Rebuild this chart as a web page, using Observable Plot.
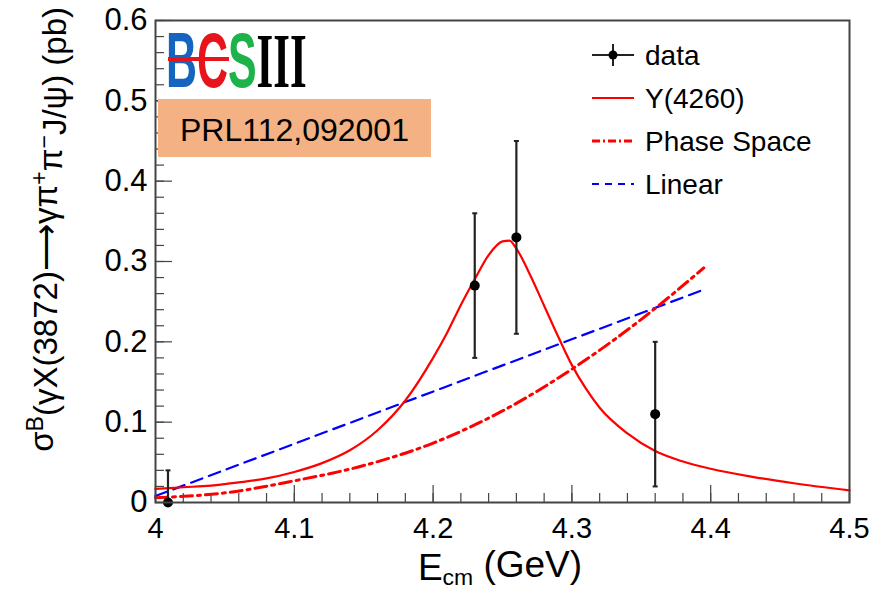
<!DOCTYPE html>
<html><head><meta charset="utf-8">
<script src="https://cdn.jsdelivr.net/npm/d3@7"></script>
<script src="https://cdn.jsdelivr.net/npm/@observablehq/plot@0.6"></script>
<style>
html,body{margin:0;padding:0;background:#fff;}
#chart{width:877px;height:592px;}
</style></head><body><div id="chart"></div>
<script>
// Measured Born cross sections sigma(e+e- -> gamma X(3872) -> gamma pi+ pi- J/psi)
const energy = [4.009, 4.23, 4.26, 4.36];
const xsec = [0.0, 0.27, 0.33, 0.11];
const xsecErr = [0.04, 0.09, 0.12, 0.09];

// Y(4260) resonance fit
const y4260E = [4.00, 4.02, 4.04, 4.06, 4.08, 4.10, 4.12, 4.14, 4.16, 4.18, 4.20, 4.21, 4.22, 4.23, 4.24, 4.25, 4.255, 4.26, 4.27, 4.28, 4.29, 4.30, 4.31, 4.32, 4.34, 4.36, 4.38, 4.40, 4.43, 4.46, 4.50];
const y4260S = [0.017, 0.019, 0.021, 0.025, 0.030, 0.038, 0.049, 0.065, 0.090, 0.127, 0.180, 0.211, 0.246, 0.278, 0.308, 0.325, 0.326, 0.316, 0.283, 0.245, 0.207, 0.171, 0.142, 0.118, 0.086, 0.064, 0.051, 0.042, 0.032, 0.024, 0.015];

// Phase space fit
const phspE = [4.00, 4.05, 4.10, 4.15, 4.20, 4.25, 4.30, 4.35, 4.395];
const phspS = [0.006, 0.012, 0.027, 0.046, 0.074, 0.114, 0.166, 0.228, 0.292];

// Linear fit
const linearE = [4.0, 4.395];
const linearS = [0.008, 0.265];

// Axis ticks
const xTicks = [4, 4.1, 4.2, 4.3, 4.4, 4.5];
const yTicks = [0, 0.1, 0.2, 0.3, 0.4, 0.5, 0.6];
const xTickLabels = ["4", "4.1", "4.2", "4.3", "4.4", "4.5"];
const yTickLabels = ["0", "0.1", "0.2", "0.3", "0.4", "0.5", "0.6"];
const xMinor = d3.range(4, 4.5001, 0.02);
const yMinor = d3.range(0, 0.6001, 0.02);

const zip = (xs, ys) => xs.map((x, i) => ({e: x, s: ys[i]}));
const points = energy.map((e, i) => ({e, s: xsec[i], lo: Math.max(0, xsec[i] - xsecErr[i]), hi: xsec[i] + xsecErr[i]}));

const W = 877, H = 592;
const mL = 155, mR = 28, mT = 20, mB = 90;
const frameW = W - mL - mR, frameH = H - mT - mB;
const font = "'Liberation Sans', Arial, Helvetica, sans-serif";
const dashDot = "12,5,3,5";
const dashed = "12,7";

// Short horizontal bar used as error-bar cap
const cap = {draw(ctx, size) { const r = Math.sqrt(size / Math.PI); ctx.moveTo(-r, 0); ctx.lineTo(r, 0); }};

const chart = Plot.plot({
  width: W, height: H,
  marginLeft: mL, marginRight: mR, marginTop: mT, marginBottom: mB,
  x: {domain: [4, 4.5], axis: null},
  y: {domain: [0, 0.6], axis: null},
  style: {fontFamily: font, background: "#fff", color: "#000"},
  marks: [
    Plot.tickX(xMinor, {x: d => d, insetTop: frameH - 9, stroke: "#444", strokeWidth: 1.2}),
    Plot.tickX(xTicks, {x: d => d, insetTop: frameH - 17, stroke: "#444", strokeWidth: 1.2}),
    Plot.tickY(yMinor, {y: d => d, insetRight: frameW - 9, stroke: "#444", strokeWidth: 1.2}),
    Plot.tickY(yTicks, {y: d => d, insetRight: frameW - 17, stroke: "#444", strokeWidth: 1.2}),
    Plot.line(zip(linearE, linearS), {x: "e", y: "s", stroke: "#0000ff", strokeWidth: 2.2, strokeDasharray: dashed}),
    Plot.line(zip(phspE, phspS), {x: "e", y: "s", stroke: "#ff0000", strokeWidth: 3, strokeDasharray: dashDot, curve: "monotone-x"}),
    Plot.line(zip(y4260E, y4260S), {x: "e", y: "s", stroke: "#ff0000", strokeWidth: 2.2, curve: "monotone-x"}),
    Plot.ruleX(points, {x: "e", y1: "lo", y2: "hi", stroke: "#222", strokeWidth: 2.2}),
    Plot.dot(points, {x: "e", y: "hi", symbol: cap, r: 2.5, stroke: "#222", strokeWidth: 2}),
    Plot.dot(points, {x: "e", y: "lo", symbol: cap, r: 2.5, stroke: "#222", strokeWidth: 2}),
    Plot.dot(points, {x: "e", y: "s", r: 5, fill: "#000"}),
    Plot.frame({stroke: "#444", strokeWidth: 2}),
    Plot.text(xTicks, {x: d => d, text: (d, i) => xTickLabels[i], frameAnchor: "bottom", dy: 26, lineAnchor: "middle", fontSize: 29, fill: "#000"}),
    Plot.text(yTicks, {y: d => d, text: (d, i) => yTickLabels[i], frameAnchor: "left", dx: -8, textAnchor: "end", lineAnchor: "middle", fontSize: 31, fill: "#000"})
  ]
});
document.getElementById("chart").appendChild(chart);

const svg = d3.select(chart);

// Y axis title
const yt = svg.append("text")
  .attr("transform", "translate(53,7) rotate(-90)")
  .attr("text-anchor", "end")
  .style("font-family", font).style("font-size", "33px").attr("fill", "#000");
yt.append("tspan").text("σ");
yt.append("tspan").attr("dy", "-0.45em").style("font-size", "70%").text("B");
yt.append("tspan").attr("dy", "0.45em").text("(γX(3872)⟶γπ");
yt.append("tspan").attr("dy", "-0.45em").style("font-size", "70%").text("+");
yt.append("tspan").attr("dy", "0.45em").text("π");
yt.append("tspan").attr("dy", "-0.45em").style("font-size", "70%").text("−");
yt.append("tspan").attr("dy", "0.45em").text("J/ψ) (pb)");

// X axis title
const xt = svg.append("text")
  .attr("x", 500).attr("y", 580).attr("text-anchor", "middle")
  .style("font-family", font).style("font-size", "37px").attr("fill", "#000");
xt.append("tspan").text("E");
xt.append("tspan").attr("dy", "0.22em").style("font-size", "62%").text("cm");
xt.append("tspan").attr("dy", "-0.22em").text(" (GeV)");

// Experiment logo: condensed coloured letters with the red bar
const logo = svg.append("text")
  .attr("transform", "translate(166,87) scale(0.55,1)")
  .attr("text-anchor", "start")
  .style("font-family", font).style("font-size", "78px").style("font-weight", "bold");
logo.append("tspan").attr("fill", "#1565c0").text("B");
logo.append("tspan").attr("fill", "#e8141c").text("C");
logo.append("tspan").attr("fill", "#1db34a").text("S");
logo.append("tspan").attr("fill", "#000").style("font-family", "'Liberation Serif', 'DejaVu Serif', serif").text("III");
svg.append("line").attr("x1", 168).attr("x2", 229).attr("y1", 59).attr("y2", 59).attr("stroke", "#e8141c").attr("stroke-width", 4);

// Publication reference
svg.append("rect").attr("x", 158).attr("y", 99).attr("width", 273).attr("height", 58).attr("fill", "#f4b183");
svg.append("text").attr("x", 180).attr("y", 141).attr("text-anchor", "start")
  .style("font-family", font).style("font-size", "32px").attr("fill", "#000").text("PRL112,092001");

// Legend
const lg = svg.append("g").style("font-family", font).attr("text-anchor", "start");
const lx1 = 592, lx2 = 634, tx = 645;
const rows = [
  {y: 55, label: "data"},
  {y: 98, label: "Y(4260)", stroke: "#ff0000", dash: null, w: 2},
  {y: 141, label: "Phase Space", stroke: "#ff0000", dash: "8,3,2,3", w: 3},
  {y: 184, label: "Linear", stroke: "#0000ff", dash: "7,6", w: 2}
];
rows.forEach((r, i) => {
  if (i === 0) {
    lg.append("line").attr("x1", lx1).attr("x2", lx2).attr("y1", r.y).attr("y2", r.y).attr("stroke", "#222").attr("stroke-width", 2);
    lg.append("line").attr("x1", 613).attr("x2", 613).attr("y1", r.y - 11).attr("y2", r.y + 11).attr("stroke", "#222").attr("stroke-width", 2);
    lg.append("circle").attr("cx", 613).attr("cy", r.y).attr("r", 4.5).attr("fill", "#000");
  } else {
    lg.append("line").attr("x1", lx1).attr("x2", lx2).attr("y1", r.y).attr("y2", r.y)
      .attr("stroke", r.stroke).attr("stroke-width", r.w).attr("stroke-dasharray", r.dash);
  }
  lg.append("text").attr("x", tx).attr("y", r.y).attr("dy", "0.35em").style("font-size", "28px").attr("fill", "#000").text(r.label);
});
</script>
</body></html>
